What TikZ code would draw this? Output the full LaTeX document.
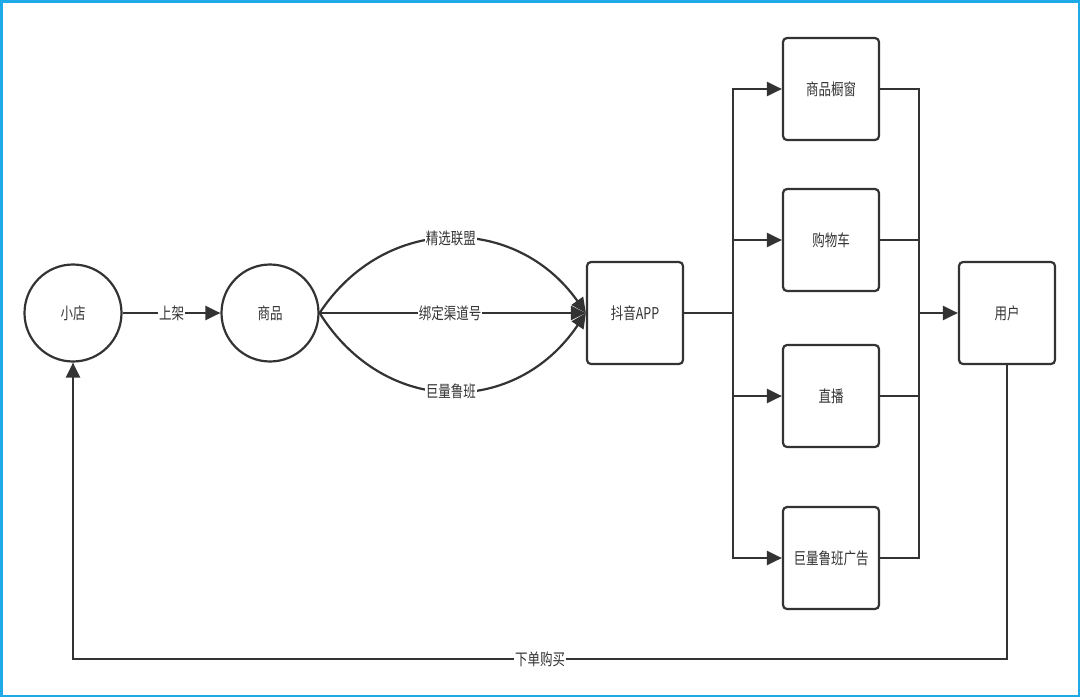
\documentclass[tikz,border=0pt]{standalone}
\usepackage{fontspec}
\setmainfont{Noto Sans CJK SC}
\usepackage{graphicx}
\usepackage{tikz}
\usetikzlibrary{arrows.meta}
\definecolor{ink}{RGB}{51,51,51}
\definecolor{frame}{RGB}{30,170,230}
\newcommand{\tall}[1]{\scalebox{1}[1.3]{#1}}
\tikzset{
	flow/.style={draw=ink, line width=2.2pt},
	arr/.style={flow, -{Triangle[length=15pt,width=14pt]}},
	roundnode/.style={circle, draw=ink, line width=2.2pt, minimum size=97pt, inner sep=0pt, font=\fontsize{12.5}{15}\selectfont, text=ink},
	boxnode/.style={rectangle, rounded corners=4pt, draw=ink, line width=2.2pt, minimum width=96pt, minimum height=102pt, inner sep=0pt, font=\fontsize{12.5}{15}\selectfont, text=ink},
	lbl/.style={fill=white, inner sep=1pt, font=\fontsize{12.5}{15}\selectfont, text=ink}
}
\begin{document}
\begin{tikzpicture}[x=1pt, y=-1pt]
				\useasboundingbox (0,0) rectangle (1080,697);
				\draw[frame, line width=2.5pt] (1.25,1.25) rectangle (1078.75,695.75);
				
				\node[roundnode] (store) at (73,313) {\tall{小店}};
				\node[roundnode] (goods) at (270,313) {\tall{商品}};
				\node[boxnode] (app) at (635,313) {\tall{抖音APP}};
				
				\node[boxnode] (window) at (831,89) {\tall{商品橱窗}};
				\node[boxnode] (cart) at (831,240) {\tall{购物车}};
				\node[boxnode] (live) at (831,396) {\tall{直播}};
				\node[boxnode] (ads) at (831,558) {\tall{巨量鲁班广告}};
				
				\node[boxnode] (user) at (1007,313) {\tall{用户}};
				
				\coordinate (split) at (733,313);
				\coordinate (join) at (919,313);
				\coordinate (loop) at (540,659);
				
				\draw[arr] (store.east) -- node[lbl] {\tall{上架}} (goods.west);
				
				\draw[arr] (goods.east) .. controls +(65,-99) and +(-70,-99) .. node[lbl, pos=0.5] {\tall{精选联盟}} (app.west);
				\draw[arr] (goods.east) -- node[lbl, pos=0.49] {\tall{绑定渠道号}} (app.west);
				\draw[arr] (goods.east) .. controls +(65,104) and +(-70,104) .. node[lbl, pos=0.5] {\tall{巨量鲁班}} (app.west);
				
				\draw[flow] (app.east) -- (split);
				\draw[arr] (split) |- (window.west);
				\draw[arr] (split) |- (cart.west);
				\draw[arr] (split) |- (live.west);
				\draw[arr] (split) |- (ads.west);
				
				\draw[flow] (window.east) -| (join);
				\draw[flow] (cart.east) -| (join);
				\draw[flow] (live.east) -| (join);
				\draw[flow] (ads.east) -| (join);
				\draw[arr] (join) -- (user.west);
				
				\draw[arr] (user.south) |- (loop) -| (store.south);
				\node[lbl] at (loop) {\tall{下单购买}};
\end{tikzpicture}
\end{document}
